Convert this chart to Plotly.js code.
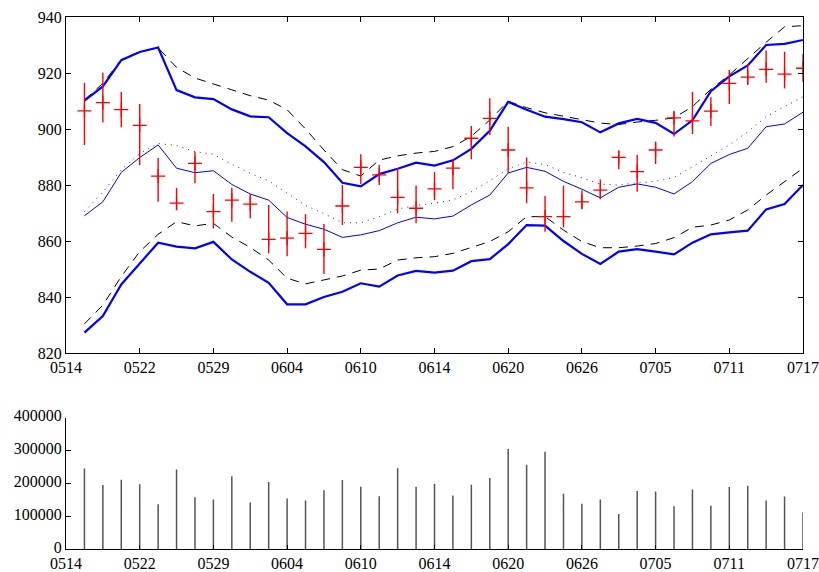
<!DOCTYPE html>
<html>
<head>
<meta charset="utf-8">
<script src="https://cdn.plot.ly/plotly-3.0.1.min.js"></script>
<style>html,body{margin:0;padding:0;background:#fff;}#chart{width:819px;height:572px;}</style>
</head>
<body>
<div id="chart"></div>
<script>
// Tick labels (every 4 trading days, index 0..40)
const tickLabels = ["0514","0522","0529","0604","0610","0614","0620","0626","0705","0711","0717"];

// Daily price: marker (center), high, low
const priceMid = [906.5,909.4,906.9,901.3,883.2,873.5,887.7,870.5,874.6,873.2,
                  860.6,861.0,862.7,857.0,872.5,886.3,883.6,875.6,871.7,878.6,
                  886.0,896.7,903.8,892.5,879.0,868.7,868.7,874.0,878.2,889.9,
                  884.8,892.5,904.0,902.9,906.4,916.3,918.5,921.3,919.6,921.7];
const priceHigh = [916.5,920.1,913.2,908.9,889.6,878.9,891.9,876.8,879.0,876.8,
                   872.9,870.5,869.6,866.1,880.0,891.0,887.1,886.0,879.8,884.6,
                   889.3,901.1,911.0,900.8,889.8,876.1,879.8,878.0,882.0,892.1,
                   890.7,895.5,906.2,913.3,911.3,921.1,923.2,928.0,927.6,926.8];
const priceLow = [894.3,902.3,900.6,887.1,874.0,871.1,880.6,864.5,866.9,868.1,
                  855.6,854.6,857.4,848.2,865.7,880.4,880.0,869.9,866.3,874.6,
                  878.5,889.2,897.9,884.2,873.5,863.3,864.9,871.3,874.9,885.6,
                  877.6,887.5,897.3,898.2,901.1,908.9,915.7,916.5,914.5,916.9];

// Bands
const upperBlue = [910.1,915.2,924.6,927.5,929.1,913.9,911.3,910.7,907.0,904.5,
                   904.2,898.5,893.8,888.2,880.8,879.5,883.9,885.8,888.0,886.9,
                   888.8,892.9,899.4,909.7,906.9,904.4,903.5,902.4,898.8,902.0,
                   903.6,902.2,898.2,903.1,913.5,918.8,922.7,930.0,930.4,931.8];
const upperDash = [910.4,916.3,924.8,927.6,929.0,922.0,918.2,916.2,914.0,911.9,
                   910.3,906.9,900.0,892.5,885.5,883.2,888.9,890.4,891.4,892.0,
                   893.7,897.4,903.2,909.9,907.6,905.8,904.6,903.5,902.1,901.6,
                   902.5,903.1,904.0,908.0,914.2,919.3,925.2,931.0,936.5,936.9];
const midBlue = [869.0,874.0,884.5,889.8,894.3,886.0,884.4,885.1,880.2,876.8,
                 874.6,868.4,866.0,864.2,861.3,862.2,863.7,866.5,868.5,867.9,
                 868.9,872.9,876.4,884.3,886.3,884.9,881.3,878.5,875.4,879.2,
                 880.4,879.2,876.8,881.2,887.7,890.9,893.1,900.8,901.8,906.0];
const midDot = [870.5,877.5,885.5,891.2,894.8,894.1,891.9,891.0,887.4,884.2,
                881.5,877.0,872.7,869.8,866.5,866.5,868.7,871.4,872.7,873.5,
                874.7,877.6,881.5,885.8,888.2,887.3,884.5,882.6,880.3,880.0,
                880.8,881.3,882.7,886.5,890.4,894.3,899.0,904.4,908.0,911.5];
const lowerDash = [830.4,837.1,847.3,856.2,862.4,866.9,865.4,866.3,861.4,857.7,
                   853.2,846.7,844.7,846.0,847.5,849.6,850.0,853.2,854.0,854.4,
                   855.6,857.7,859.8,863.3,868.7,868.7,863.9,859.8,857.6,857.6,
                   858.2,859.1,861.2,864.9,865.7,867.5,871.1,876.4,881.2,886.0];
const lowerBlue = [827.3,833.2,844.5,852.0,859.4,858.0,857.4,859.7,853.4,849.0,
                   845.1,837.4,837.4,840.0,841.9,844.9,843.7,847.7,849.3,848.7,
                   849.4,852.8,853.5,858.9,865.7,865.5,860.0,855.4,851.8,856.2,
                   857.1,856.2,855.2,859.4,862.4,863.1,863.7,871.3,873.2,880.0];

// Volume
const volume = [245000,195000,211000,197000,136000,242000,158000,151000,222000,142000,
                204000,154000,148000,179000,210000,190000,161000,246000,190000,199000,
                163000,196000,216000,305000,257000,296000,168000,138000,151000,107000,
                177000,175000,130000,181000,132000,189000,193000,148000,160000,111000];

const xIdx = priceMid.map((_, i) => i + 1);
const tickVals = tickLabels.map((_, i) => i * 4);

const font = {family: "Liberation Serif, Times New Roman, serif", size: 16, color: "#000"};

const traces = [
  {x: xIdx, y: upperDash, type: "scatter", mode: "lines", line: {color: "#000", width: 1, dash: "9px,7px"}, xaxis: "x", yaxis: "y", hoverinfo: "skip"},
  {x: xIdx, y: lowerDash, type: "scatter", mode: "lines", line: {color: "#000", width: 1, dash: "9px,7px"}, xaxis: "x", yaxis: "y", hoverinfo: "skip"},
  {x: xIdx, y: midDot, type: "scatter", mode: "lines", line: {color: "#333", width: 1, dash: "1px,5px"}, xaxis: "x", yaxis: "y", hoverinfo: "skip"},
  {x: xIdx, y: upperBlue, type: "scatter", mode: "lines", line: {color: "#0000ff", width: 2.2}, xaxis: "x", yaxis: "y"},
  {x: xIdx, y: lowerBlue, type: "scatter", mode: "lines", line: {color: "#0000ff", width: 2.2}, xaxis: "x", yaxis: "y"},
  {x: xIdx, y: midBlue, type: "scatter", mode: "lines", line: {color: "#0000ff", width: 1}, xaxis: "x", yaxis: "y"},
  {x: xIdx, y: priceMid, type: "scatter", mode: "markers",
   marker: {symbol: "cross-thin", size: 10, color: "#ff0000", line: {color: "#ff0000", width: 1.3}},
   error_y: {type: "data", symmetric: false,
             array: priceHigh.map((h, i) => h - priceMid[i]),
             arrayminus: priceLow.map((l, i) => priceMid[i] - l),
             color: "#ff0000", thickness: 1.4, width: 0},
   xaxis: "x", yaxis: "y"},
  // volume drawn as vertical stems from zero
  {x: xIdx, y: volume.map(() => 0), type: "scatter", mode: "markers",
   marker: {size: 0.1, color: "rgba(0,0,0,0)"},
   error_y: {type: "data", symmetric: false, array: volume, arrayminus: volume.map(() => 0),
             color: "#555", thickness: 1.5, width: 0},
   xaxis: "x2", yaxis: "y2"}
];

const layout = {
  width: 819, height: 572,
  margin: {l: 66, r: 16, t: 17, b: 23},
  paper_bgcolor: "#fff", plot_bgcolor: "#fff",
  showlegend: false,
  font: font,
  xaxis: {domain: [0, 1], anchor: "y", range: [0, 40], tickvals: tickVals, ticktext: tickLabels,
          ticks: "inside", ticklen: 5, tickcolor: "#000", showline: true, linecolor: "#000", linewidth: 1,
          mirror: "ticks", showgrid: false, zeroline: false, tickfont: font, automargin: false},
  yaxis: {domain: [0.3684, 1], anchor: "x", range: [820, 940], dtick: 20, tick0: 820,
          ticks: "inside", ticklen: 5, tickcolor: "#000", showline: true, linecolor: "#000", linewidth: 1,
          mirror: "ticks", showgrid: false, zeroline: false, tickfont: font, automargin: false},
  xaxis2: {domain: [0, 1], anchor: "y2", range: [0, 40], tickvals: tickVals, ticktext: tickLabels,
           ticks: "inside", ticklen: 4, tickcolor: "#000", showline: true, linecolor: "#000", linewidth: 1,
           showgrid: false, zeroline: false, tickfont: font, automargin: false},
  yaxis2: {domain: [0, 0.2468], anchor: "x2", range: [0, 400000], tickvals: [0,100000,200000,300000,400000],
           tickformat: "d", ticks: "inside", ticklen: 5, tickcolor: "#000", showline: true, linecolor: "#000", linewidth: 1,
           showgrid: false, zeroline: false, tickfont: font, automargin: false, ticklabelshift: -2}
};

Plotly.newPlot("chart", traces, layout, {displayModeBar: false, staticPlot: true});
</script>
</body>
</html>
